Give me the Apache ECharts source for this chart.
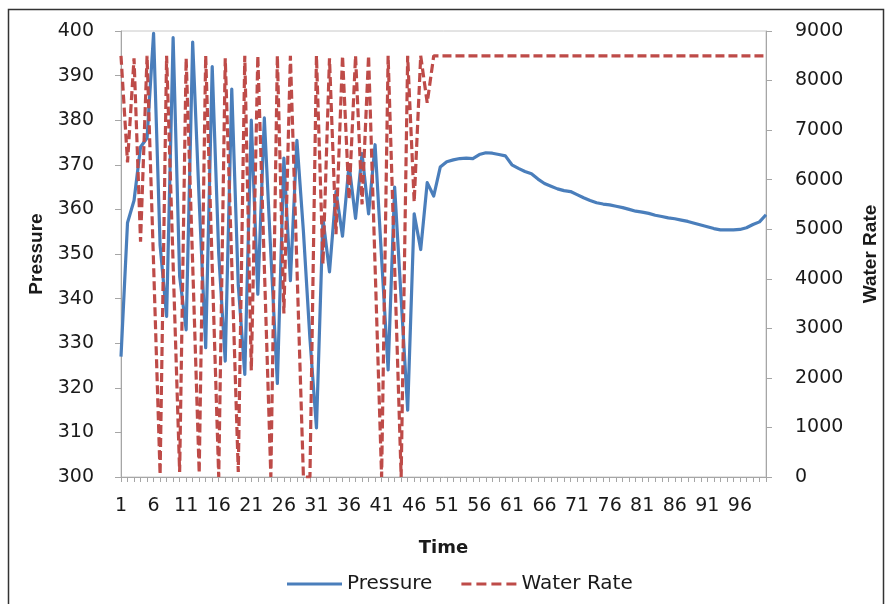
<!DOCTYPE html>
<html>
<head>
<meta charset="utf-8">
<script src="https://cdn.jsdelivr.net/npm/echarts@6/dist/echarts.min.js"></script>
<style>
html,body{margin:0;padding:0;background:#fff;}
#chart{width:888px;height:604px;}
</style>
</head>
<body>
<div id="chart"></div>
<script>
var categories = [];
for (var i = 1; i <= 100; i++) categories.push(String(i));

var pressure = [
  327, 357, 362, 374, 376, 399.5, 352, 336, 398.5, 345,
  333, 397.5, 362, 329, 392, 350, 326, 387, 343, 323,
  380, 341, 380.5, 350, 321, 371.5, 344, 375.5, 355, 331,
  311, 358, 346, 364, 354, 370, 358, 372.5, 359, 374.5,
  349, 324, 365, 340, 315, 359, 351, 366, 363, 369.5,
  370.7, 371.1, 371.4, 371.5, 371.4, 372.3, 372.7, 372.6, 372.3, 372,
  370, 369.2, 368.5, 368, 366.8, 365.8, 365.2, 364.6, 364.2, 364,
  363.3, 362.6, 362, 361.5, 361.2, 361, 360.7, 360.4, 360, 359.6,
  359.4, 359.1, 358.7, 358.4, 358.1, 357.9, 357.6, 357.3, 356.9, 356.5,
  356.1, 355.7, 355.4, 355.4, 355.4, 355.5, 355.9, 356.6, 357.2, 358.8
];

var waterRate = [
  8500, 6350, 8450, 4750, 8500, 4300, 50, 8500, 4300, 100,
  8450, 4300, 80, 8500, 4250, 0, 8450, 4300, 100, 8500,
  2150, 8500, 4250, 0, 8500, 3300, 8500, 4250, 0, 0,
  8500, 4300, 8450, 4900, 8500, 5600, 8500, 5500, 8500, 4250,
  0, 8500, 4250, 0, 8500, 5550, 8500, 7550, 8500, 8500,
  8500, 8500, 8500, 8500, 8500, 8500, 8500, 8500, 8500, 8500,
  8500, 8500, 8500, 8500, 8500, 8500, 8500, 8500, 8500, 8500,
  8500, 8500, 8500, 8500, 8500, 8500, 8500, 8500, 8500, 8500,
  8500, 8500, 8500, 8500, 8500, 8500, 8500, 8500, 8500, 8500,
  8500, 8500, 8500, 8500, 8500, 8500, 8500, 8500, 8500, 8500
];

var FONT = 'DejaVu Sans';
var TXT = '#1a1a1a';
var AX = '#a6a6a6';
var BLUE = '#4a7ebb';
var RED = '#be4b48';

var chart = echarts.init(document.getElementById('chart'), null, {renderer: 'canvas'});
chart.setOption({
  animation: false,
  backgroundColor: '#ffffff',
  graphic: [{
    type: 'rect',
    shape: {x: 8.5, y: 9.5, width: 875, height: 600},
    style: {fill: 'none', stroke: '#333333', lineWidth: 1.5},
    silent: true, z: 100
  }],
  grid: {
    left: 121, right: 110, top: 31, bottom: 127,
    show: true, borderColor: '#c8c8c8', borderWidth: 1, backgroundColor: 'transparent'
  },
  legend: {
    left: 282, top: 569,
    itemWidth: 55, itemHeight: 3, itemGap: 29,
    textStyle: {fontFamily: FONT, fontSize: 20, color: TXT},
    data: [
      {name: 'Pressure', icon: 'rect', itemStyle: {color: BLUE}},
      {name: 'Water Rate', icon: 'path://M0,0h10v3h-10z M15,0h10v3h-10z M30,0h10v3h-10z M45,0h10v3h-10z', itemStyle: {color: RED}}
    ]
  },
  xAxis: {
    type: 'category',
    data: categories,
    boundaryGap: false,
    name: 'Time',
    nameLocation: 'middle',
    nameGap: 62,
    nameTextStyle: {fontFamily: FONT, fontSize: 18, fontWeight: 'bold', color: TXT},
    axisLine: {lineStyle: {color: AX, width: 1}},
    axisTick: {show: true, interval: 0, length: 5, lineStyle: {color: AX}},
    axisLabel: {interval: 4, margin: 20, fontFamily: FONT, fontSize: 19, color: TXT},
    splitLine: {show: false}
  },
  yAxis: [{
    type: 'value',
    min: 300, max: 400, interval: 10,
    position: 'left',
    name: 'Pressure',
    nameLocation: 'middle',
    nameRotate: 90,
    nameGap: 75,
    nameTextStyle: {fontFamily: 'Liberation Sans', fontSize: 19, fontWeight: 'bold', color: TXT},
    axisLine: {show: true, lineStyle: {color: AX, width: 1}},
    axisTick: {show: true, length: 6, lineStyle: {color: AX}},
    axisLabel: {margin: 27, fontFamily: FONT, fontSize: 19, color: TXT},
    splitLine: {show: false}
  }, {
    type: 'value',
    min: 0, max: 9000, interval: 1000,
    position: 'right',
    name: 'Water Rate',
    nameLocation: 'middle',
    nameRotate: 90,
    nameGap: 95,
    nameTextStyle: {fontFamily: 'Liberation Sans', fontSize: 19, fontWeight: 'bold', color: TXT},
    axisLine: {show: true, lineStyle: {color: AX, width: 1}},
    axisTick: {show: true, length: 6, lineStyle: {color: AX}},
    axisLabel: {margin: 29, fontFamily: FONT, fontSize: 19, color: TXT,
      formatter: function (v) { return String(v); }},
    splitLine: {show: false}
  }],
  series: [{
    name: 'Pressure',
    type: 'line',
    yAxisIndex: 0,
    data: pressure,
    symbol: 'none',
    smooth: false,
    itemStyle: {color: BLUE},
    lineStyle: {color: BLUE, width: 3.2, join: 'round'},
    z: 2
  }, {
    name: 'Water Rate',
    type: 'line',
    yAxisIndex: 1,
    data: waterRate,
    symbol: 'none',
    smooth: false,
    itemStyle: {color: RED},
    lineStyle: {color: RED, width: 3.2, type: [9, 4], cap: 'butt'},
    z: 3
  }]
});
</script>
</body>
</html>
